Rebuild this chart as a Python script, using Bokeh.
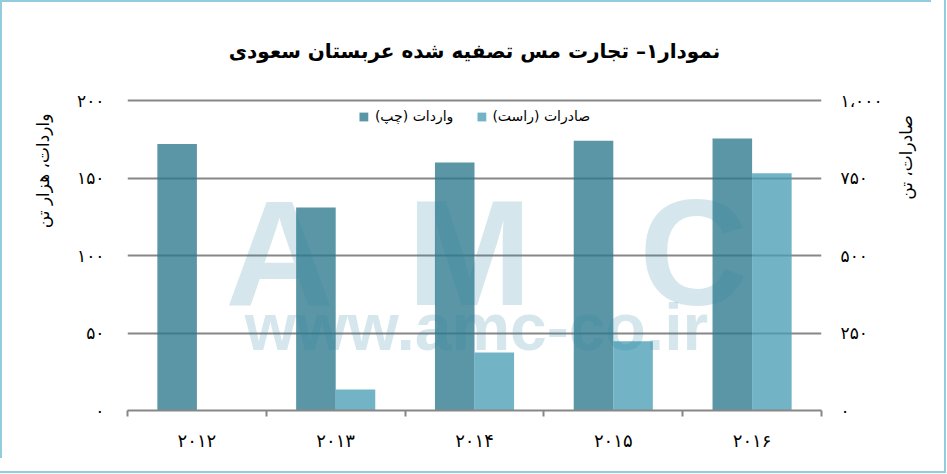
import numpy as np
from math import pi
from bokeh.plotting import figure
from bokeh.models import (Range1d, LinearAxis, FixedTicker, Label, Legend, LegendItem, Title)
from bokeh.embed import file_html
from bokeh.resources import INLINE

# ---- data -------------------------------------------------------------
years = ["۲۰۱۲", "۲۰۱۳", "۲۰۱۴", "۲۰۱۵", "۲۰۱۶"]
imports_kt = [172, 131, 160, 174, 175.5]     # left axis (thousand tonnes)
exports_t = [0, 68, 187, 223, 765]            # right axis (tonnes)
left_ticks = [0, 50, 100, 150, 200]
left_tick_labels = ["۰", "۵۰", "۱۰۰", "۱۵۰", "۲۰۰"]
right_ticks = [0, 250, 500, 750, 1000]
right_tick_labels = ["۰", "۲۵۰", "۵۰۰", "۷۵۰", "۱،۰۰۰"]
series_names = ["واردات (چپ)", "صادرات (راست)"]
title_text = "نمودار۱– تجارت مس تصفیه شده عربستان سعودی"
left_label = "واردات، هزار تن"
right_label = "صادرات، تن"

# ---- layout -----------------------------------------------------------
W, H = 931, 458
BL, BT = 127, 98
FW, FH = 694, 312
BR = W - BL - FW
BB = H - BT - FH
FONT = "DejaVu Sans"
GRID = "#878787"
C_IMP = "#2b788c"
C_EXP = "#499eb5"
EDGE = "#93cddd"
pad = FH / (FH - (100 - BT))   # small headroom so the top gridline is not clipped

p = figure(width=W, height=H, x_range=Range1d(0, len(years)),
           y_range=Range1d(left_ticks[0], left_ticks[-1] * pad),
           output_backend="svg", toolbar_location=None,
           x_axis_location=None, y_axis_location=None,
           min_border_left=BL, min_border_right=BR,
           min_border_top=BT, min_border_bottom=BB,
           background_fill_color="white", border_fill_color=None,
           styles={"outline": "2px solid " + EDGE, "outline-offset": "13px",
                   "box-shadow": "inset 2px 2px 0 0 " + EDGE})
p.outline_line_color = None
p.extra_y_ranges = {"exp": Range1d(right_ticks[0], right_ticks[-1] * pad)}

# title
p.title.text = title_text
p.title.align = "center"
p.title.text_font = FONT
p.title.text_font_style = "bold"
p.title.text_font_size = "20px"
p.title.text_color = "black"
p.title.standoff = 72

# grid
p.xgrid.visible = False
p.ygrid.ticker = FixedTicker(ticks=left_ticks)
p.ygrid.grid_line_color = GRID
p.ygrid.grid_line_width = 2

# bars
x = np.arange(len(years)) + 0.5
bw = 0.285
r_imp = p.vbar(x=x - bw / 2, top=imports_kt, width=bw, fill_color=C_IMP,
               fill_alpha=0.775, line_color=None)
r_exp = p.vbar(x=x + bw / 2, top=exports_t, width=bw, fill_color=C_EXP,
               fill_alpha=0.775, line_color=None, y_range_name="exp")

# axes
ax_b = LinearAxis(ticker=FixedTicker(ticks=list(x), minor_ticks=list(range(len(years) + 1))),
                  major_label_overrides={float(v): s for v, s in zip(x, years)})
ax_b.axis_line_color = GRID
ax_b.axis_line_width = 2
ax_b.major_tick_line_color = None
ax_b.major_tick_out = 0
ax_b.major_tick_in = 0
ax_b.minor_tick_line_color = GRID
ax_b.minor_tick_line_width = 2
ax_b.minor_tick_out = 6
ax_b.minor_tick_in = 0
ax_b.major_label_standoff = 13
ax_b.major_label_text_font = FONT
ax_b.major_label_text_font_size = "18px"
ax_b.major_label_text_color = "black"
p.add_layout(ax_b, "below")

ax_l = LinearAxis(ticker=FixedTicker(ticks=left_ticks),
                  major_label_overrides=dict(zip(left_ticks, left_tick_labels)))
ax_r = LinearAxis(y_range_name="exp", ticker=FixedTicker(ticks=right_ticks),
                  major_label_overrides=dict(zip(right_ticks, right_tick_labels)))
props = LinearAxis.properties()
for ax, so in ((ax_l, 23), (ax_r, 19)):
    ax.axis_line_color = None
    ax.major_tick_line_color = None
    ax.minor_tick_line_color = None
    ax.major_tick_out = 0
    ax.major_tick_in = 0
    ax.major_label_standoff = so
    ax.major_label_text_font = FONT
    ax.major_label_text_font_size = "17px"
    ax.major_label_text_color = "black"

# right axis title: reads upward like the original; leading no-break spaces
# lift it from the bottom-aligned position up to the top of the axis
ax_r.axis_label = "\u00a0" * 39 + right_label
ax_r.axis_label_text_font = FONT
ax_r.axis_label_text_font_size = "17px"
ax_r.axis_label_text_font_style = "normal"
ax_r.axis_label_text_color = "black"
ax_r.axis_label_standoff = 20
if "axis_label_align" in props:
    ax_r.axis_label_align = "start"
if "axis_label_orientation" in props:
    ax_r.axis_label_orientation = pi / 2
p.add_layout(ax_l, "left")
p.add_layout(ax_r, "right")

# left axis title as a side title aligned near the top
p.add_layout(Title(text=left_label, align="right", offset=15, standoff=44,
                   text_font=FONT, text_font_size="17px", text_font_style="normal",
                   text_color="black"), "left")

# legend
legend = Legend(items=[LegendItem(label=series_names[0], renderers=[r_imp]),
                       LegendItem(label=series_names[1], renderers=[r_exp])],
                orientation="horizontal", location="top_center",
                border_line_color=None, background_fill_alpha=0,
                glyph_width=11, glyph_height=11, label_standoff=6, spacing=22,
                padding=4, margin=10, label_text_font=FONT,
                label_text_font_size="14px", label_text_color="black")
p.add_layout(legend)

# helpers: canvas pixel -> data coords (for the faint watermark inside the frame)
def px_x(px):
    return (px - BL) * len(years) / FW

def px_y(py):
    return (BT + FH - py) * (left_ticks[-1] * pad) / FH

# watermark (drawn faintly on top, as in the original)
wm = dict(text_color="#2d82a0", text_alpha=0.2, text_font="Liberation Sans",
          text_font_style="bold", text_align="center", text_baseline="alphabetic")
for ch, cx in zip("AMC", (279, 469, 693)):
    p.add_layout(Label(x=px_x(cx), y=px_y(252), text=ch, text_font_size="150px", **wm))
p.add_layout(Label(x=px_x(476), y=px_y(326), text="www.amc-co.ir", text_font_size="66px", **wm))

open("out.html", "w").write(file_html(p, INLINE))
